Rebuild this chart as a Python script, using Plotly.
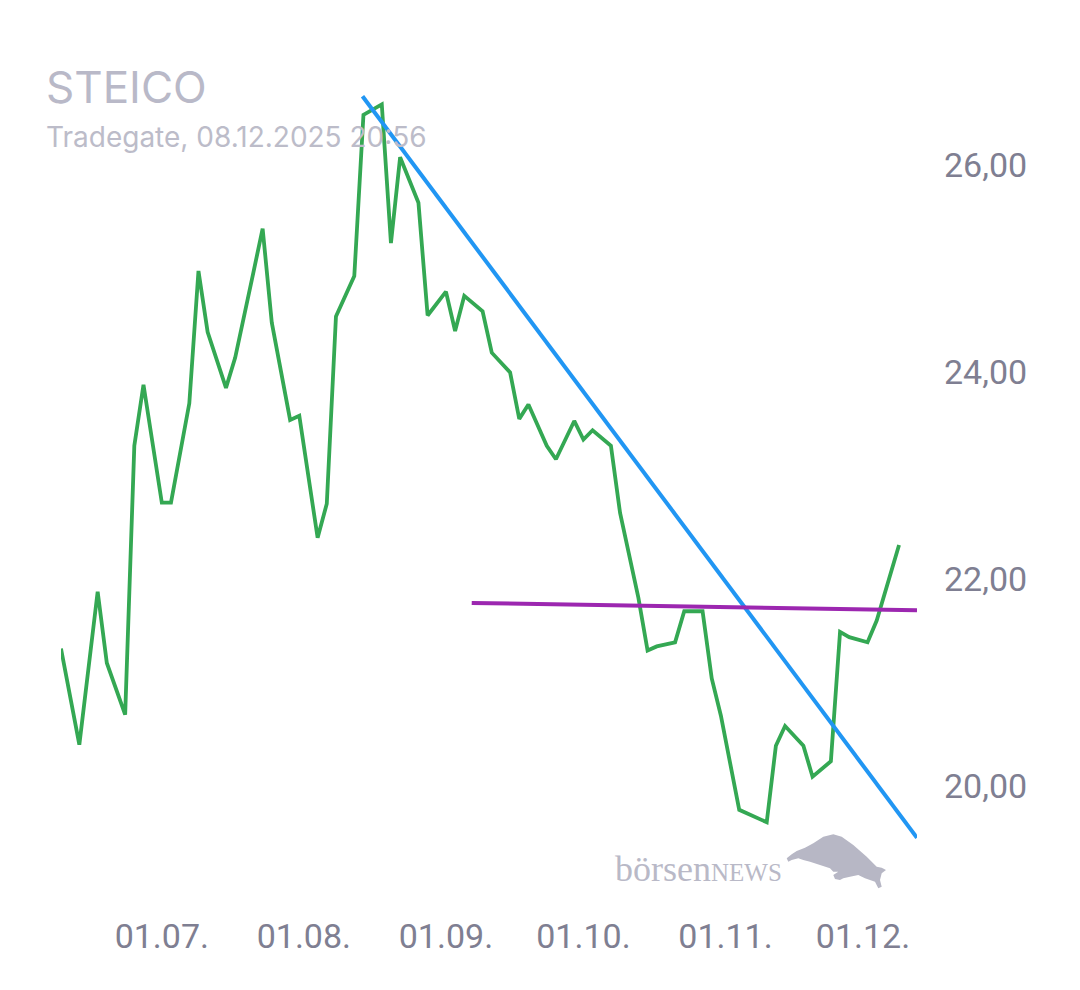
import plotly.graph_objects as go

# STEICO closing prices (Tradegate)
dates = ["2025-06-09", "2025-06-13", "2025-06-17", "2025-06-19", "2025-06-23",
         "2025-06-25", "2025-06-27", "2025-07-01", "2025-07-03", "2025-07-07",
         "2025-07-09", "2025-07-11", "2025-07-15", "2025-07-17", "2025-07-21",
         "2025-07-23", "2025-07-25", "2025-07-29", "2025-07-31", "2025-08-04",
         "2025-08-06", "2025-08-08", "2025-08-12", "2025-08-14", "2025-08-16",
         "2025-08-18", "2025-08-20", "2025-08-22", "2025-08-26", "2025-08-28",
         "2025-09-01", "2025-09-03", "2025-09-05", "2025-09-09", "2025-09-11",
         "2025-09-15", "2025-09-17", "2025-09-19", "2025-09-23", "2025-09-25",
         "2025-09-29", "2025-10-01", "2025-10-03", "2025-10-07", "2025-10-09",
         "2025-10-13", "2025-10-15", "2025-10-17", "2025-10-21", "2025-10-23",
         "2025-10-27", "2025-10-29", "2025-10-31", "2025-11-04", "2025-11-10",
         "2025-11-12", "2025-11-14", "2025-11-18", "2025-11-20", "2025-11-24",
         "2025-11-26", "2025-11-28", "2025-12-02", "2025-12-04", "2025-12-08 21:00"]
prices = [21.33, 20.40, 21.88, 21.19, 20.69,
          23.29, 23.88, 22.74, 22.74, 23.70,
          24.98, 24.39, 23.85, 24.14, 24.97,
          25.39, 24.48, 23.54, 23.58, 22.40,
          22.73, 24.54, 24.93, 26.49, 26.54,
          26.59, 25.25, 26.08, 25.64, 24.55,
          24.78, 24.40, 24.74, 24.59, 24.19,
          24.00, 23.55, 23.69, 23.29, 23.16,
          23.53, 23.35, 23.44, 23.29, 22.64,
          21.82, 21.31, 21.35, 21.39, 21.69,
          21.69, 21.04, 20.68, 19.77, 19.65,
          20.39, 20.58, 20.39, 20.09, 20.24,
          21.49, 21.44, 21.39, 21.60, 22.33]

# drawn trend lines (start / end)
trend_dates = ["2025-08-13 19:00", "2025-12-12 19:00"]
trend_vals = [26.67, 19.50]
support_dates = ["2025-09-06 15:00", "2025-12-12 19:00"]
support_vals = [21.77, 21.70]

x_range = ["2025-06-09", "2025-12-12 19:00"]
y_range = [18.85, 27.02]
y_ticks = [20, 22, 24, 26]

W, H = 1080, 990
OFF = 8  # page body margin
L, R, T, B = 61 - OFF, 163 + OFF, 60 - OFF, 85 + OFF

def px(x, y):
    # screen pixel -> paper coords (for decorations only)
    x, y = x - OFF, y - OFF
    return (x - L) / (W - L - R), (H - B - y) / (H - T - B)

fig = go.Figure()

fig.add_trace(go.Scatter(
    x=dates, y=prices, mode='lines',
    line=dict(color='#34a853', width=3.8),
    hoverinfo='skip'
))
fig.add_trace(go.Scatter(
    x=trend_dates, y=trend_vals, mode='lines',
    line=dict(color='#2196f3', width=4),
    hoverinfo='skip'
))
fig.add_trace(go.Scatter(
    x=support_dates, y=support_vals, mode='lines',
    line=dict(color='#9c27b0', width=4),
    hoverinfo='skip'
))

# bull logo (rough silhouette)
bull = [(786.7, 858.3), (791.7, 854.3), (796.7, 851), (805, 847.7), (813.3, 843.3),
        (823.3, 836.7), (833.3, 834.3), (841.7, 836.7), (853.3, 845), (866.7, 856.7),
        (876.7, 866.7), (881.7, 867.7), (886, 870), (881.7, 873.3), (880, 880),
        (881.7, 886.7), (878.3, 888.3), (875, 881.7), (870, 880), (865, 878.3),
        (858.3, 875), (850, 876.7), (843.3, 878.3), (840, 880), (835, 879),
        (833.3, 875), (838.3, 871.7), (833.3, 871.7), (830, 868.3), (820, 865),
        (810, 861.7), (803.3, 860), (798.3, 858.3), (791.7, 860), (788.3, 861.7)]
pts = [px(a, b) for a, b in bull]
path = "M " + " L ".join(f"{a:.5f},{b:.5f}" for a, b in pts) + " Z"
fig.add_shape(type='path', path=path, xref='paper', yref='paper',
              fillcolor='#b7b7c5', line=dict(width=0), layer='below')

tx, ty = px(44, 87)
fig.add_annotation(x=tx, y=ty, xref='paper', yref='paper', text="STEICO",
                   showarrow=False, xanchor='left', yanchor='middle',
                   font=dict(family='Inter', size=44, color='#b9b9c8'))
sx, sy = px(44, 137)
fig.add_annotation(x=sx, y=sy, xref='paper', yref='paper',
                   text="Tradegate, 08.12.2025 20:56",
                   showarrow=False, xanchor='left', yanchor='middle',
                   font=dict(family='Inter', size=28, color='#bcbcc9'))
wx, wy = px(698, 869)
fig.add_annotation(x=wx, y=wy, xref='paper', yref='paper',
                   text="börsen<span style='font-size:25px'>NEWS</span>",
                   showarrow=False, xanchor='center', yanchor='middle',
                   font=dict(family='Liberation Serif', size=36, color='#b9b9c7'))

fig.update_layout(
    width=W, height=H,
    margin=dict(l=L, r=R, t=T, b=B),
    paper_bgcolor='white', plot_bgcolor='white',
    showlegend=False,
    separators=',.',
    xaxis=dict(
        type='date', range=x_range,
        tick0='2025-07-01', dtick='M1', tickformat='%d.%m.',
        showgrid=False, zeroline=False, showline=False, ticks='',
        ticklabelstandoff=8,
        tickfont=dict(family='Roboto', size=34, color='#7f7f92'),
    ),
    yaxis=dict(
        range=y_range, side='right',
        tickvals=y_ticks, tickformat='.2f',
        showgrid=False, zeroline=False, showline=False, ticks='',
        ticklabelstandoff=26,
        tickfont=dict(family='Roboto', size=34, color='#7f7f92'),
    ),
)

fig.write_html("out.html")
